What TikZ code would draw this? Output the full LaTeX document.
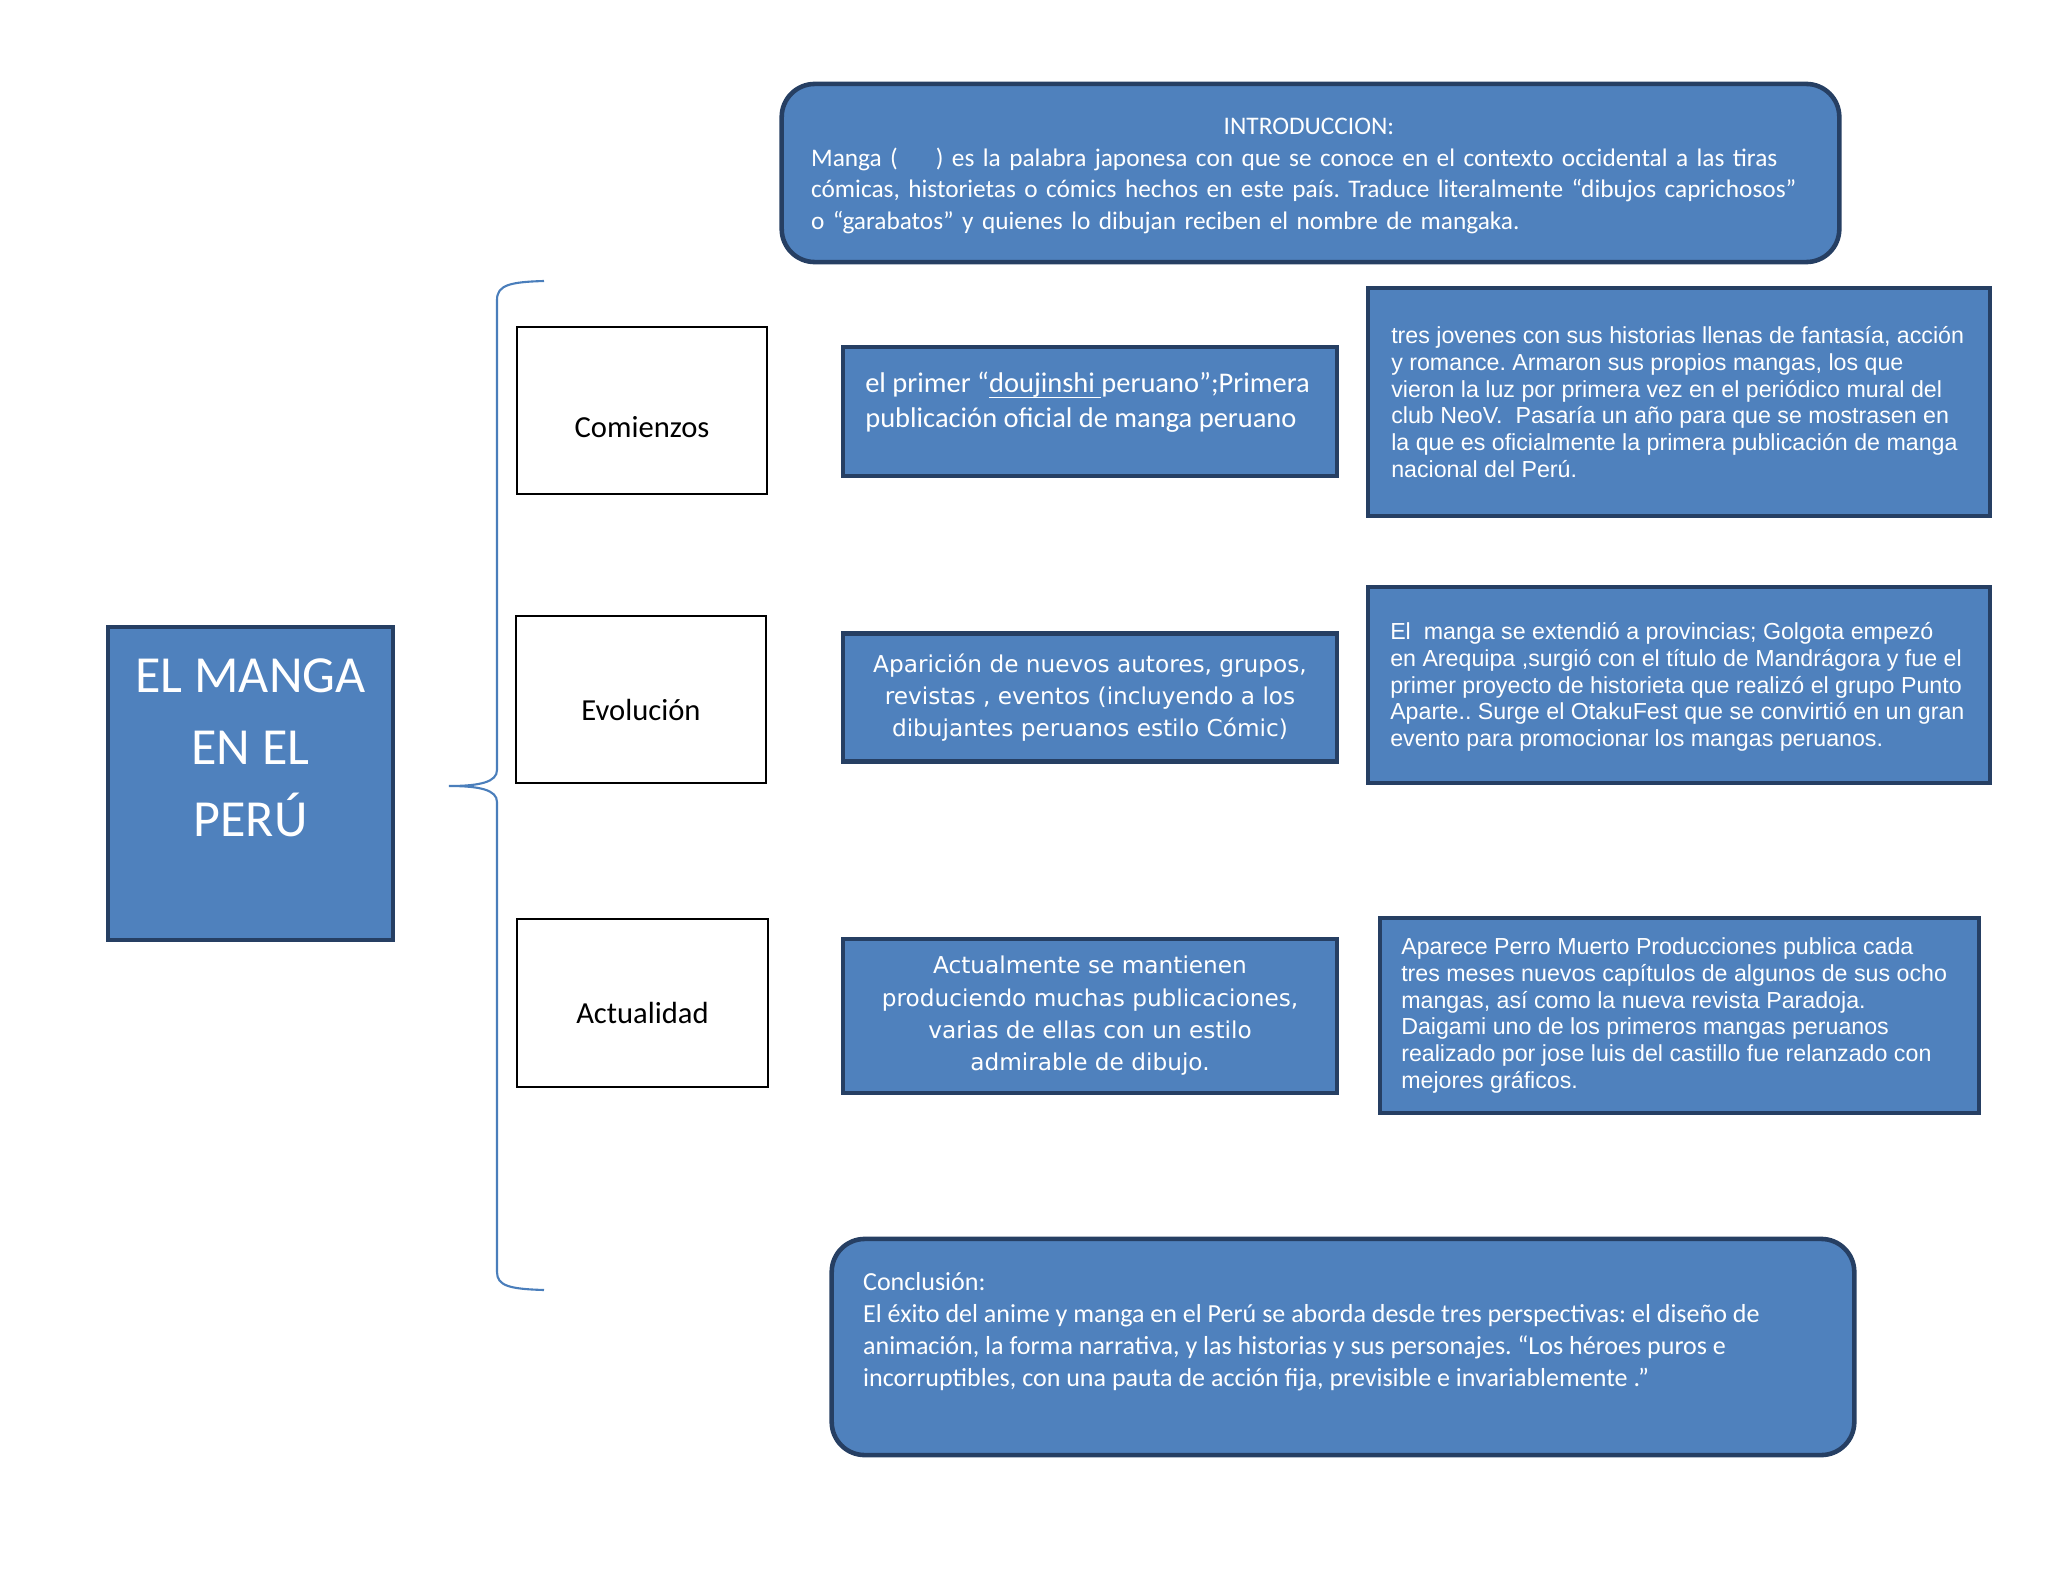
\documentclass[tikz,border=0pt]{standalone}
\usepackage{fontspec}
\setmainfont{Carlito}
\newfontfamily\arialfont{Liberation Sans}
\newfontfamily\verdanafont{DejaVu Sans}
\usepackage{xcolor}
\usetikzlibrary{positioning}
\definecolor{cajaazul}{HTML}{4F81BD}
\definecolor{bordeazul}{HTML}{263F63}
\definecolor{llave}{HTML}{4A7EBB}
\frenchspacing

\begin{document}
\begin{tikzpicture}[x=0.01cm, y=-0.01cm,
    azul/.style={draw=bordeazul, fill=cajaazul, line width=1.3pt, text=white, inner sep=0pt},
    redondo/.style={azul, rounded corners=0.33cm},
    blanco/.style={draw=black, line width=0.6pt, fill=white, inner sep=0pt},
    etiqueta/.style={inner sep=0pt, anchor=base, font=\fontsize{8.7}{10}\selectfont},
    texto/.style={text=white, inner sep=0pt, anchor=west, align=left},
    arial/.style={texto, font=\arialfont\fontsize{6.6}{7.6}\selectfont},
    verdana/.style={font=\verdanafont\fontsize{6.6}{9.2}\selectfont, align=center}]
    \useasboundingbox (0,0) rectangle (2048,1582);
    % titulo
    \node[azul, minimum width=2.85cm, minimum height=3.13cm, align=center,
        font=\fontsize{14.8}{20.5}\selectfont] (manga) at (250.5,783.5) {EL MANGA\\EN EL\\PER\'U\\\mbox{}};
    % introduccion y conclusion
    \node[redondo, minimum width=10.57cm, minimum height=1.78cm] (intro) at (1310.5,173) {};
    \node[texto, text width=9.95cm, font=\fontsize{7.2}{9}\selectfont] (introtexto) at ([xshift=0.31cm, yshift=-0.03cm]intro.west)
        {\mbox{}\hfill INTRODUCCION:\hfill\mbox{}\\
        Manga (\hspace{1.5em}) es la palabra japonesa con que se conoce en el contexto occidental a las tiras\\
        cómicas, historietas o cómics hechos en este país. Traduce literalmente “dibujos caprichosos”\\
        o “garabatos” y quienes lo dibujan reciben el nombre de mangaka.};
    \node[redondo, minimum width=10.22cm, minimum height=2.16cm] (conclusion) at (1343,1347) {};
    \node[texto, font=\fontsize{7.4}{9.1}\selectfont] (conclusiontexto) at ([xshift=0.33cm, yshift=0.15cm]conclusion.west)
        {Conclusión:\\
        El éxito del anime y manga en el Perú se aborda desde tres perspectivas: el diseño de\\
        animación, la forma narrativa, y las historias y sus personajes. “Los héroes puros e\\
        incorruptibles, con una pauta de acción fija, previsible e invariablemente .”};
    % etapas
    \node[blanco, minimum width=2.50cm, minimum height=1.67cm] (comienzos) at (642,410.5) {};
    \node[etiqueta] (comienzostexto) at ([yshift=-0.265cm]comienzos.center) {Comienzos};
    \node[blanco, minimum width=2.50cm, minimum height=1.67cm] (evolucion) at (641,699.5) {};
    \node[etiqueta] (evoluciontexto) at ([yshift=-0.205cm]evolucion.center) {Evolución};
    \node[blanco, minimum width=2.51cm, minimum height=1.68cm] (actualidad) at (642.5,1003) {};
    \node[etiqueta] (actualidadtexto) at ([yshift=-0.2cm]actualidad.center) {Actualidad};
    % resumenes
    \node[azul, minimum width=4.94cm, minimum height=1.29cm] (primero) at (1090,411.5) {};
    \node[texto, font=\fontsize{8.1}{10}\selectfont] (primerotexto) at ([xshift=0.24cm, yshift=0.09cm]primero.west)
        {el primer “\underline{\smash{doujinshi\ }}peruano”;Primera\\
        publicación oficial de manga peruano};
    \node[azul, verdana, minimum width=4.94cm, minimum height=1.28cm] (aparicion) at (1090,697.5)
        {Aparición de nuevos autores, grupos,\\
        revistas , eventos (incluyendo a los\\dibujantes peruanos estilo Cómic)};
    \node[azul, verdana, minimum width=4.94cm, minimum height=1.54cm] (mantienen) at (1090,1016)
        {Actualmente se mantienen\\
        produciendo muchas publicaciones,\\varias de ellas con un estilo\\admirable de dibujo.};
    % detalles
    \node[azul, minimum width=6.22cm, minimum height=2.28cm] (jovenes) at (1679,402) {};
    \node[arial] (jovenestexto) at ([xshift=0.25cm]jovenes.west)
        {tres jovenes con sus historias llenas de fantasía, acción\\
        y romance. Armaron sus propios mangas, los que\\
        vieron la luz por primera vez en el periódico mural del\\
        club NeoV.\ \ Pasaría un año para que se mostrasen en\\
        la que es oficialmente la primera publicación de manga\\
        nacional del Perú.};
    \node[azul, minimum width=6.22cm, minimum height=1.96cm] (provincias) at (1679,685) {};
    \node[arial] (provinciastexto) at ([xshift=0.24cm, yshift=-0.02cm]provincias.west)
        {El\ \ manga se extendió a provincias; Golgota empezó\\
        en Arequipa ,surgió con el título de Mandrágora y fue el\\
        primer proyecto de historieta que realizó el grupo Punto\\
        Aparte.. Surge el OtakuFest que se convirtió en un gran\\
        evento para promocionar los mangas peruanos.};
    \node[azul, minimum width=5.99cm, minimum height=1.95cm] (perro) at (1679.5,1015.5) {};
    \node[arial] (perrotexto) at ([xshift=0.23cm]perro.west)
        {Aparece Perro Muerto Producciones publica cada\\
        tres meses nuevos capítulos de algunos de sus ocho\\
        mangas, así como la nueva revista Paradoja.\\
        Daigami uno de los primeros mangas peruanos\\
        realizado por jose luis del castillo fue relanzado con\\
        mejores gráficos.};
    % llave
    \coordinate (llavearriba) at (544,281);
    \coordinate (llavepunta) at (449,786);
    \coordinate (llaveabajo) at (544,1290);
    \draw[llave, line width=0.6pt] (llavearriba) .. controls (510,282) and (497,285) .. (497,300)
        -- (497,770) .. controls (497,782) and (480,786) .. (llavepunta)
        .. controls (480,786) and (497,790) .. (497,802)
        -- (497,1272) .. controls (497,1286) and (510,1289) .. (llaveabajo);
\end{tikzpicture}
\end{document}
